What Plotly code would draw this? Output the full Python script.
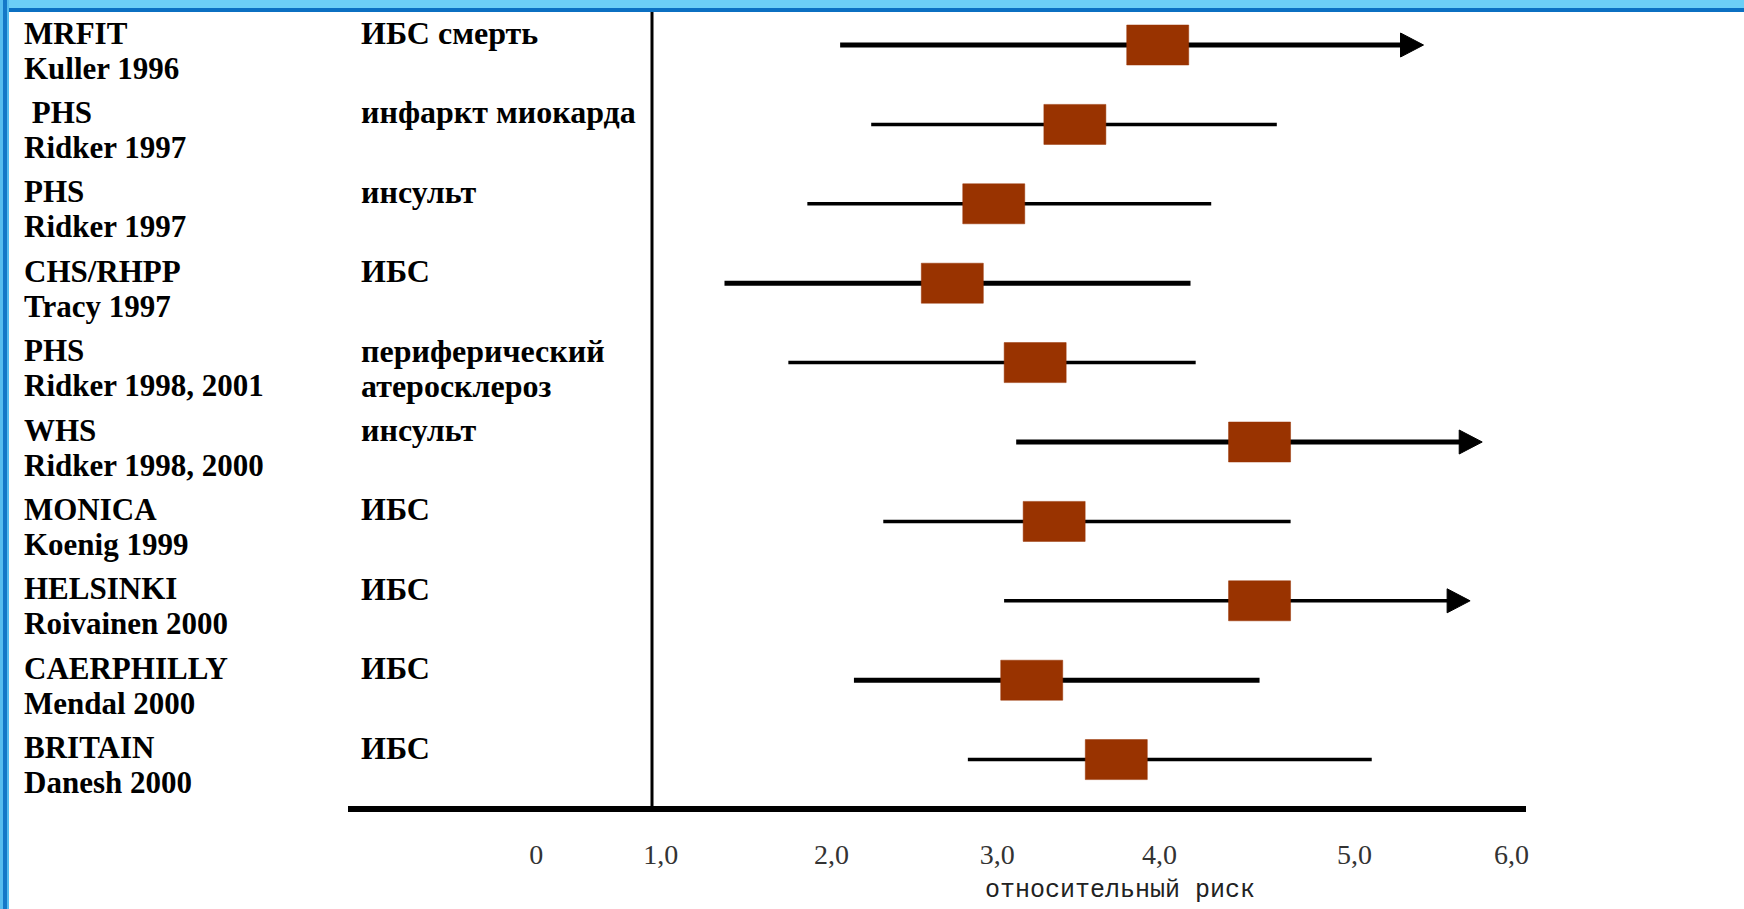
import plotly.graph_objects as go

# ---------------- data ----------------
study_names = ["MRFIT", "\u00a0PHS", "PHS", "CHS/RHPP", "PHS", "WHS",
               "MONICA", "HELSINKI", "CAERPHILLY", "BRITAIN"]
study_refs = ["Kuller 1996", "Ridker 1997", "Ridker 1997", "Tracy 1997",
              "Ridker 1998, 2001", "Ridker 1998, 2000", "Koenig 1999",
              "Roivainen 2000", "Mendal 2000", "Danesh 2000"]
outcome_line1 = ["ИБС смерть", "инфаркт миокарда", "инсульт", "ИБС",
                 "периферический", "инсульт", "ИБС", "ИБС", "ИБС", "ИБС"]
outcome_line2 = ["", "", "", "", "атеросклероз", "", "", "", "", ""]
relative_risk = [3.93, 3.45, 2.98, 2.74, 3.22, 4.52, 3.33, 4.52, 3.20, 3.69]
ci_low = [2.09, 2.27, 1.90, 1.42, 1.79, 3.11, 2.34, 3.04, 2.17, 2.83]
ci_high = [5.47, 4.62, 4.24, 4.12, 4.15, 5.81, 4.70, 5.74, 4.52, 5.17]
ci_open = [True, False, False, False, False, True, False, True, False, False]
tick_positions = [0.33, 1.05, 2.04, 3.00, 3.94, 5.07, 5.98]
tick_labels = ["0", "1,0", "2,0", "3,0", "4,0", "5,0", "6,0"]
reference_value = 1.0
x_title = "относительный риск"

# ---------------- styles / geometry ----------------
W, H = 1744, 909
M_L, M_R, M_T, M_B = 348, 218, 12, 103
PX_PER_UNIT = 172.6
X_ZERO_PX = 479.4
ROW0_PX, ROW_STEP_PX = 45.0, 79.4
plot_h = H - M_T - M_B
x_range = [(M_L - X_ZERO_PX) / PX_PER_UNIT, (W - M_R - X_ZERO_PX) / PX_PER_UNIT]
y_top = -(ROW0_PX - M_T) / ROW_STEP_PX
y_range = [y_top + plot_h / ROW_STEP_PX, y_top]

thick_rows = [True, False, False, True, False, True, False, False, True, False]
BOX_HW = 31 / PX_PER_UNIT
BOX_HH = 20 / ROW_STEP_PX
ARROW_LEN = 23 / PX_PER_UNIT
ARROW_HH = 12 / ROW_STEP_PX
BOX_COLOR = "#993300"
LABEL_FONT = dict(family="Liberation Serif", size=31, color="black")
OUT_FONT = dict(family="Liberation Serif", size=32, color="black")

fig = go.Figure()
rows = list(range(len(study_names)))

# whisker lines
for thick in (True, False):
    xs, ys = [], []
    for i in rows:
        if thick_rows[i] != thick:
            continue
        end = ci_high[i] - (ARROW_LEN * 0.8 if ci_open[i] else 0)
        xs += [ci_low[i], end, None]
        ys += [i, i, None]
    fig.add_trace(go.Scatter(x=xs, y=ys, mode="lines",
                             line=dict(color="black", width=5 if thick else 3.5),
                             hoverinfo="skip"))

# arrow heads for open-ended intervals
for i in rows:
    if ci_open[i]:
        tip = ci_high[i]
        fig.add_trace(go.Scatter(
            x=[tip - ARROW_LEN, tip, tip - ARROW_LEN, tip - ARROW_LEN],
            y=[i - ARROW_HH, i, i + ARROW_HH, i - ARROW_HH],
            mode="lines", fill="toself", fillcolor="black",
            line=dict(color="black", width=1), hoverinfo="skip"))

# point estimate boxes
for i in rows:
    c = relative_risk[i]
    fig.add_trace(go.Scatter(
        x=[c - BOX_HW, c + BOX_HW, c + BOX_HW, c - BOX_HW, c - BOX_HW],
        y=[i - BOX_HH, i - BOX_HH, i + BOX_HH, i + BOX_HH, i - BOX_HH],
        mode="lines", fill="toself", fillcolor=BOX_COLOR,
        line=dict(color=BOX_COLOR, width=0.5), hoverinfo="text",
        text=f"{study_names[i].strip()}: {relative_risk[i]}"))

annotations = []
for i in rows:
    annotations.append(dict(xref="paper", yref="y", x=0, y=i, xshift=22 - M_L,
                            yshift=12, xanchor="left", yanchor="middle",
                            text=f"<b>{study_names[i]}</b>", showarrow=False,
                            font=LABEL_FONT))
    annotations.append(dict(xref="paper", yref="y", x=0, y=i, xshift=22 - M_L,
                            yshift=-23, xanchor="left", yanchor="middle",
                            text=f"<b>{study_refs[i]}</b>", showarrow=False,
                            font=LABEL_FONT))
    annotations.append(dict(xref="paper", yref="y", x=0, y=i, xshift=11,
                            yshift=12, xanchor="left", yanchor="middle",
                            text=f"<b>{outcome_line1[i]}</b>", showarrow=False,
                            font=OUT_FONT))
    if outcome_line2[i]:
        annotations.append(dict(xref="paper", yref="y", x=0, y=i, xshift=11,
                                yshift=-23, xanchor="left", yanchor="middle",
                                text=f"<b>{outcome_line2[i]}</b>", showarrow=False,
                                font=OUT_FONT))

annotations.append(dict(xref="paper", yref="paper",
                        x=(1120 - M_L) / (W - M_L - M_R),
                        y=0, yshift=-84, xanchor="center", yanchor="middle",
                        text=x_title, showarrow=False,
                        font=dict(family="Liberation Mono", size=25, color="#222")))

shapes = [
    # reference line at RR = 1
    dict(type="line", xref="x", yref="paper", x0=reference_value, x1=reference_value,
         y0=0, y1=1, line=dict(color="black", width=3), layer="above"),
    # top border (light band + dark line)
    dict(type="rect", xref="paper", yref="paper", xsizemode="pixel", ysizemode="pixel",
         xanchor=0, yanchor=1, x0=-M_L, x1=W - M_L, y0=4, y1=M_T + 2,
         fillcolor="#6ccff6", line=dict(width=0), layer="above"),
    dict(type="rect", xref="paper", yref="paper", xsizemode="pixel", ysizemode="pixel",
         xanchor=0, yanchor=1, x0=-M_L, x1=W - M_L, y0=0, y1=4,
         fillcolor="#0b70c2", line=dict(width=0), layer="above"),
    # left border
    dict(type="rect", xref="paper", yref="paper", xsizemode="pixel", ysizemode="pixel",
         xanchor=0, yanchor=0, x0=-M_L - 2, x1=-M_L + 9, y0=-M_B - 2, y1=plot_h + M_T + 2,
         fillcolor="#56bdef", line=dict(width=0), layer="above"),
    dict(type="rect", xref="paper", yref="paper", xsizemode="pixel", ysizemode="pixel",
         xanchor=0, yanchor=0, x0=-M_L + 3, x1=-M_L + 7, y0=-M_B - 2, y1=plot_h + M_T + 2,
         fillcolor="#1478c8", line=dict(width=0), layer="above"),
]

fig.update_layout(
    width=W, height=H,
    margin=dict(l=M_L, r=M_R, t=M_T, b=M_B, pad=0),
    paper_bgcolor="white", plot_bgcolor="white",
    showlegend=False,
    annotations=annotations, shapes=shapes,
    xaxis=dict(range=x_range, tickvals=tick_positions, ticktext=tick_labels,
               tickfont=dict(family="Liberation Serif", size=28, color="#333"),
               ticks="", showline=True, linewidth=6, linecolor="black",
               showgrid=False, zeroline=False, ticklabelstandoff=18, fixedrange=True),
    yaxis=dict(range=y_range, visible=False, fixedrange=True),
)

fig.write_html(
    "out.html",
    config={"displayModeBar": False},
    post_script="document.body.style.margin='0px';document.body.style.overflow='hidden';",
)
